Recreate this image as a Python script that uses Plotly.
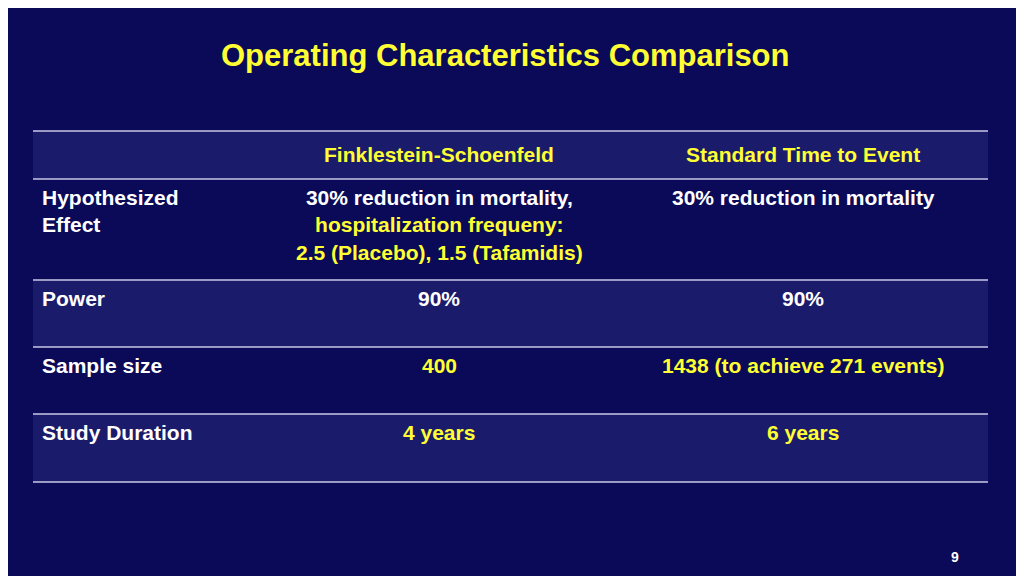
import plotly.graph_objects as go

title = "Operating Characteristics Comparison"
headers = ["", "Finklestein-Schoenfeld", "Standard Time to Event"]
row_labels = ["Hypothesized<br>Effect", "Power", "Sample size", "Study Duration"]
col_fs = ["30% reduction in mortality,<br><span style='color:#ffff33'>hospitalization frequeny:<br>2.5 (Placebo), 1.5 (Tafamidis)</span>",
          "90%", "400", "4 years"]
col_std = ["30% reduction in mortality", "90%", "1438 (to achieve 271 events)", "6 years"]
value_colors = ["white", "white", "#ffff33", "#ffff33"]

YEL = "#ffff33"
BG = "#0a0a58"
BAND = "#1b1b6c"
FONT = "Liberation Sans"
OFF = 8  # page body margin

# row boundaries in pixels (header + 4 rows)
edges = [e - OFF for e in [131, 179, 280, 347, 414, 482]]
x0, x1 = 33 - OFF, 988 - OFF
col_x = [x - OFF for x in [40, 439, 803]]

fig = go.Figure()
shapes, ann = [], []
for i in range(5):
    if i % 2 == 0:
        shapes.append(dict(type="rect", x0=x0, x1=x1, y0=edges[i], y1=edges[i + 1],
                           fillcolor=BAND, line_width=0, layer="below"))
for e in edges:
    shapes.append(dict(type="line", x0=x0, x1=x1, y0=e, y1=e, line=dict(color="#c8c8e6", width=1.5)))

def txt(x, y, s, color, anchor="center", size=21):
    ann.append(dict(x=x, y=y, text=s, showarrow=False, xanchor=anchor, yanchor="top",
                    align=anchor if anchor != "center" else "center",
                    font=dict(family=FONT, size=size, color=color)))

txt(col_x[1], 141 - OFF, "<b>%s</b>" % headers[1], YEL)
txt(col_x[2], 141 - OFF, "<b>%s</b>" % headers[2], YEL)
for i in range(4):
    y = edges[i + 1] + 5
    txt(col_x[0], y, "<b>%s</b>" % row_labels[i], "white", "left")
    txt(col_x[1], y, "<b>%s</b>" % col_fs[i], value_colors[i])
    txt(col_x[2], y, "<b>%s</b>" % col_std[i], value_colors[i])

ann.append(dict(x=505 - OFF, y=55 - OFF, text="<b>%s</b>" % title, showarrow=False,
                font=dict(family=FONT, size=31, color=YEL)))
ann.append(dict(x=955 - OFF, y=557 - OFF, text="<b>9</b>", showarrow=False,
                font=dict(family=FONT, size=14, color="white")))

fig.update_layout(width=1024, height=576, margin=dict(l=0, r=0, t=0, b=0),
                  paper_bgcolor=BG, plot_bgcolor=BG, shapes=shapes, annotations=ann,
                  xaxis=dict(range=[0, 1024], visible=False, fixedrange=True),
                  yaxis=dict(range=[576, 0], visible=False, fixedrange=True),
                  showlegend=False)
fig.write_html("out.html", config={"displayModeBar": False})
